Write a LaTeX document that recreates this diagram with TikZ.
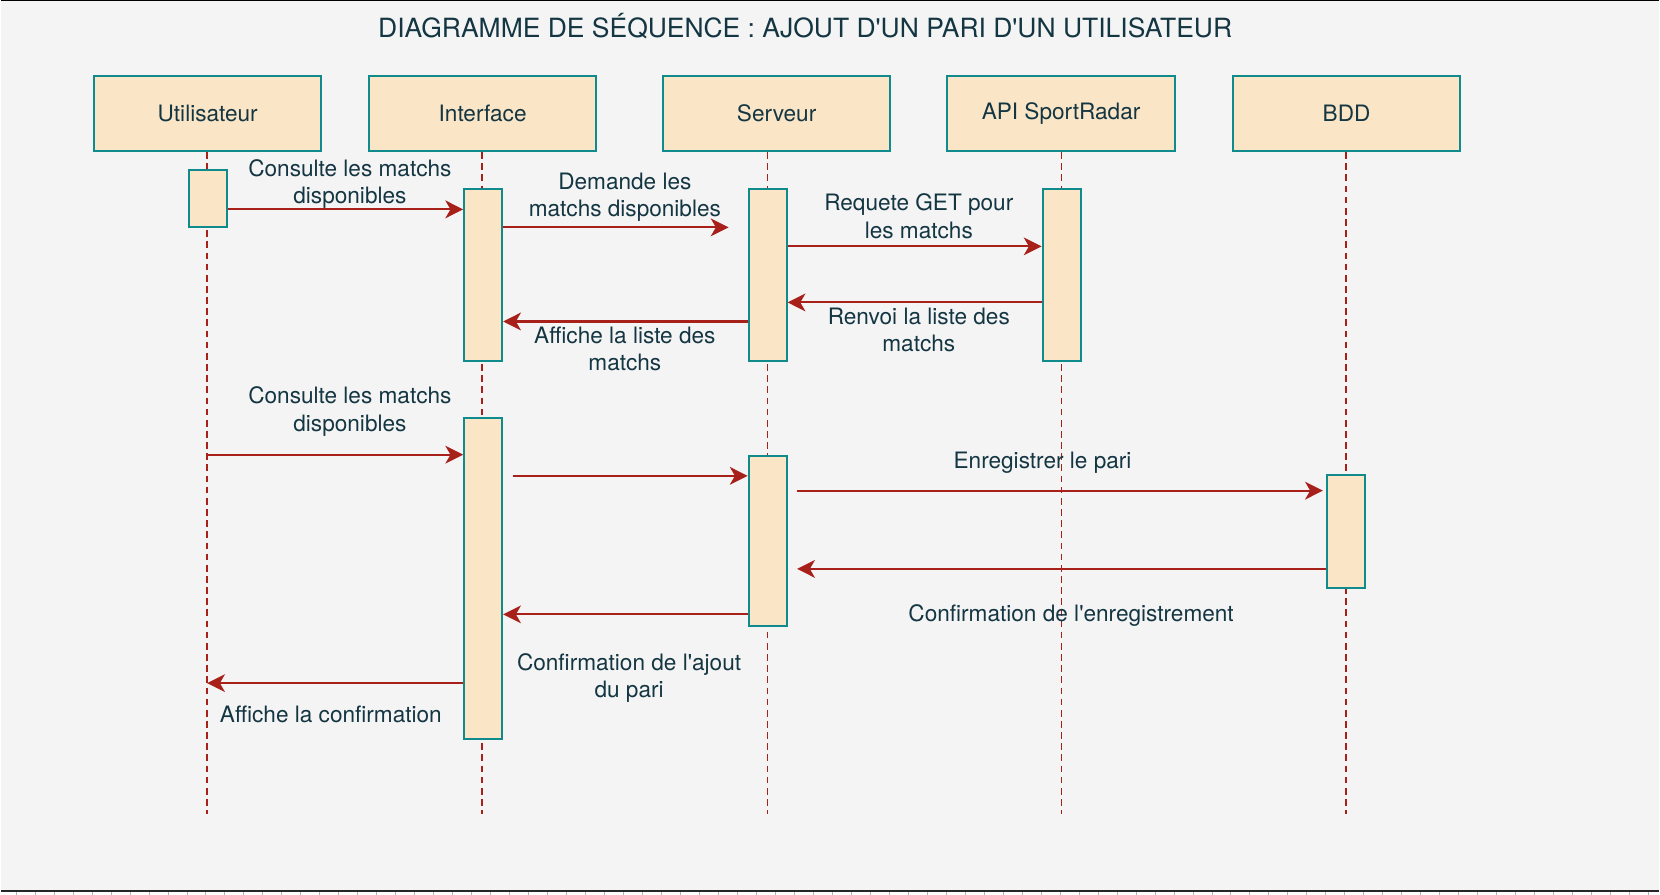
\documentclass[tikz,border=0pt]{standalone}
\usepackage{fontspec}
\newfontfamily\diagfont{TeX Gyre Heros}
\usepackage{xcolor}
\usepackage{tikz}
\usetikzlibrary{arrows.meta}

\definecolor{seqfill}{HTML}{FAE5C7}
\definecolor{seqline}{HTML}{0F8B8D}
\definecolor{seqtext}{HTML}{143642}
\definecolor{seqred}{HTML}{A8201A}
\definecolor{seqbg}{HTML}{F4F4F4}

\begin{document}
\begin{tikzpicture}[x=0.025cm, y=-0.025cm,
    headbox/.style={rectangle, draw=seqline, line width=1.3pt, fill=seqfill, minimum width=5.375cm, minimum height=1.775cm, inner sep=0pt, text=seqtext, font=\diagfont\fontsize{15.2}{18.5}\selectfont},
    actbox/.style={rectangle, draw=seqline, line width=1.3pt, fill=seqfill, minimum width=0.9cm, inner sep=0pt},
    lifeline/.style={draw=seqred, line width=1.1pt, dash pattern=on 4.5pt off 3pt},
    msg/.style={-{Stealth[length=0.42cm, width=0.42cm, inset=0.12cm]}, draw=seqred, line width=1.4pt},
    lbl/.style={align=center, inner sep=0pt, text=seqtext, font=\diagfont\fontsize{15.2}{18.5}\selectfont}
  ]
    % Page and frame
    \fill[seqbg] (0,0) rectangle (1568,846);
    \fill[white] (0,843) rectangle (1568,846);
    \draw[black, line width=0.7pt] (0,0.5) -- (1568,0.5);
    \draw[black!85, line width=1.3pt] (0,843) -- (1568,843);
    \foreach \i in {0,...,86}
      \draw[black!30, line width=0.4pt] (14.2+17.95*\i,844) -- (14.2+17.95*\i,846);

    % Title
    \node[lbl, font=\diagfont\fontsize{17.8}{21}\selectfont] (title) at (760.5,25) {DIAGRAMME DE SÉQUENCE : AJOUT D'UN PARI D'UN UTILISATEUR};

    % Participants
    \node[headbox] (user) at (195.5,107.5) {Utilisateur};
    \node[headbox] (ihm) at (455.5,107.5) {Interface};
    \node[headbox] (srv) at (733.5,107.5) {Serveur};
    \node[headbox] (api) at (1002.5,107.5) {API SportRadar};
    \node[headbox] (bdd) at (1272.5,107.5) {BDD};

    % Lifelines
    \coordinate (userEnd) at (195,770);
    \coordinate (ihmEnd) at (455,770);
    \coordinate (srvEnd) at (725,770);
    \coordinate (apiEnd) at (1003,770);
    \coordinate (bddEnd) at (1272,770);
    \draw[lifeline] (user.south -| userEnd) -- (userEnd);
    \draw[lifeline] (ihm.south -| ihmEnd) -- (ihmEnd);
    \draw[lifeline] (srv.south -| srvEnd) -- (srvEnd);
    \draw[lifeline] (api.south -| apiEnd) -- (apiEnd);
    \draw[lifeline] (bdd.south -| bddEnd) -- (bddEnd);

    % Activation bars
    \node[actbox, minimum height=1.35cm] (actU) at (196,188) {};
    \node[actbox, minimum height=4.05cm] (actI1) at (456,260) {};
    \node[actbox, minimum height=4.05cm] (actS1) at (725,260) {};
    \node[actbox, minimum height=4.05cm] (actA1) at (1003,260) {};
    \node[actbox, minimum height=7.6cm] (actI2) at (456,547) {};
    \node[actbox, minimum height=4.025cm] (actS2) at (725,511.5) {};
    \node[actbox, minimum height=2.675cm] (actB) at (1272,502.5) {};

    % Message levels
    \coordinate (m1) at (0,198);
    \coordinate (m2) at (0,215);
    \coordinate (m3) at (0,233);
    \coordinate (m4) at (0,286);
    \coordinate (m5) at (0,304);
    \coordinate (m6) at (0,430);
    \coordinate (m7) at (0,450);
    \coordinate (m8) at (0,464);
    \coordinate (m9) at (0,538);
    \coordinate (m10) at (0,581);
    \coordinate (m11) at (0,646);

    % First sequence: list of matches
    \draw[msg] (m1 -| actU.east) -- (m1 -| actI1.west);
    \draw[msg, shorten >=0.45cm] (m2 -| actI1.east) -- (m2 -| actS1.west);
    \draw[msg] (m3 -| actS1.east) -- (m3 -| actA1.west);
    \draw[msg] (m4 -| actA1.west) -- (m4 -| actS1.east);
    \draw[msg] (m5 -| actS1.west) -- (m5 -| actI1.east);

    \node[lbl] (l1) at (330,174) {Consulte les matchs\\disponibles};
    \node[lbl] (l2) at (590,186.5) {Demande les\\matchs disponibles};
    \node[lbl] (l3) at (868,204.5) {Requete GET pour\\les matchs};
    \node[lbl] (l4) at (868,312) {Renvoi la liste des\\matchs};
    \node[lbl] (l5) at (590,330) {Affiche la liste des\\matchs};

    % Second sequence: adding a bet
    \draw[msg] (m6 -| userEnd) -- (m6 -| actI2.west);
    \draw[msg, shorten <=0.225cm] (m7 -| actI2.east) -- (m7 -| actS2.west);
    \draw[msg, shorten <=0.225cm, shorten >=0.075cm] (m8 -| actS2.east) -- (m8 -| actB.west);
    \draw[msg, shorten >=0.225cm] (m9 -| actB.west) -- (m9 -| actS2.east);
    \draw[msg] (m10 -| actS2.west) -- (m10 -| actI2.east);
    \draw[msg] (m11 -| actI2.west) -- (m11 -| userEnd);

    \node[lbl] (l6) at (330,389) {Consulte les matchs\\disponibles};
    \node[lbl] (l8) at (985,438) {Enregistrer le pari};
    \node[lbl] (l9) at (1012,582) {Confirmation de l'enregistrement};
    \node[lbl] (l10) at (594,641) {Confirmation de l'ajout\\du pari};
    \node[lbl] (l11) at (312,676) {Affiche la confirmation};
\end{tikzpicture}
\end{document}
